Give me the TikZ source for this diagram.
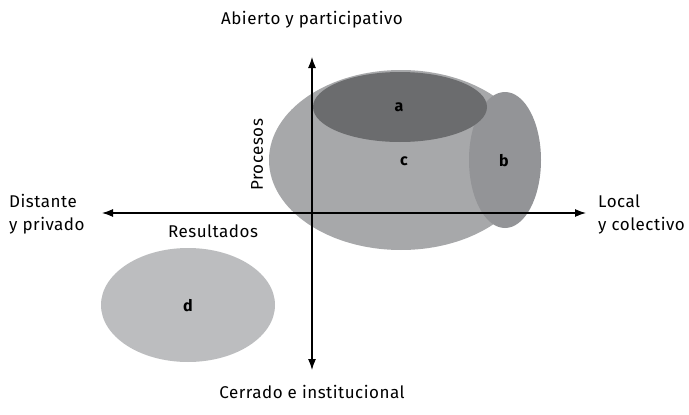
\documentclass[tikz,border=0pt]{standalone}
\usepackage{fontspec}
\setmainfont{Fira Sans}
\usetikzlibrary{arrows.meta}
\definecolor{cC}{HTML}{A7A8AA}
\definecolor{cA}{HTML}{6B6C6E}
\definecolor{cB}{HTML}{939497}
\definecolor{cD}{HTML}{BCBDBF}
\begin{document}
\begin{tikzpicture}[x=1pt,y=-1pt,
  lbl/.style={font=\fontsize{16}{18}\selectfont\bfseries},
  axtext/.style={font=\fontsize{17}{23}\selectfont\addfontfeature{LetterSpace=3}, inner sep=0pt},
  axis/.style={line width=1.2pt,-{Latex[length=11pt,width=8pt]}}]
\useasboundingbox (0,0) rectangle (689,415);
\fill[cC] (401,160) ellipse [x radius=132, y radius=90];
\fill[cB] (505,160) ellipse [x radius=36, y radius=68];
\fill[cA] (400,107) ellipse [x radius=87, y radius=35];
\fill[cD] (188,305) ellipse [x radius=87, y radius=57];
\node[lbl] (la) at (399,107) {a};
\node[lbl] (lb) at (504,161) {b};
\node[lbl] (lc) at (404,161) {c};
\node[lbl] (ld) at (188,306) {d};
\coordinate (o) at (312,213);
\coordinate (top) at (312,57);
\coordinate (bot) at (312,370);
\coordinate (lft) at (102,213);
\coordinate (rgt) at (586,213);
\draw[axis] (o) -- (top);
\draw[axis] (o) -- (bot);
\draw[axis] (o) -- (lft);
\draw[axis] (o) -- (rgt);
\node[axtext] (tA) at (312,20) {Abierto y participativo};
\node[axtext] (tC) at (312,392) {Cerrado e institucional};
\node[axtext, align=left, anchor=west] (tD) at (9,214) {Distante\\y privado};
\node[axtext, align=left, anchor=west] (tL) at (598,214) {Local\\y colectivo};
\node[axtext] (tR) at (213,231) {Resultados};
\node[axtext, rotate=90] (tP) at (257,155) {Procesos};
\end{tikzpicture}
\end{document}
